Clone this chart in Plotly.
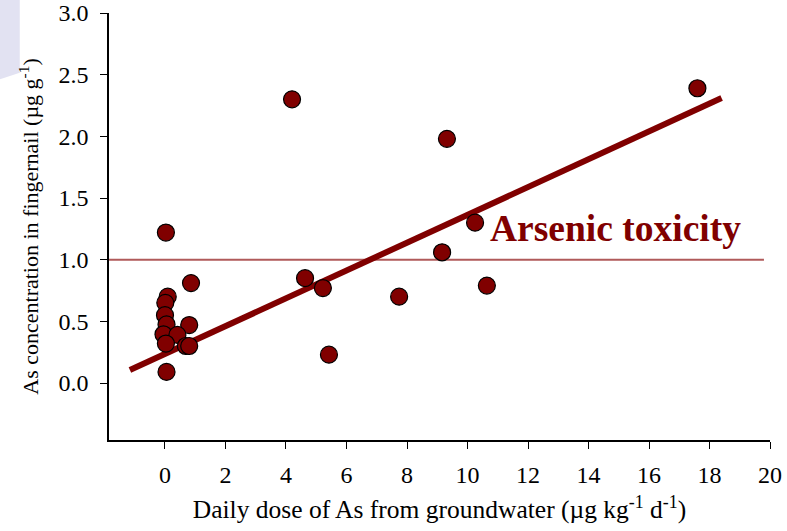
import plotly.graph_objects as go

# Data
dose = [0.03, 4.2, 17.6, 9.32, 10.25, 9.16, 10.64, 7.74, 4.63, 5.22, 5.42, 0.86,
        0.09, 0.01, 0.0, 0.05, 0.80, -0.05, 0.41, 0.03, 0.69, 0.80, 0.05]
nail = [1.22, 2.30, 2.39, 1.98, 1.30, 1.06, 0.79, 0.70, 0.85, 0.77, 0.23, 0.81,
        0.70, 0.65, 0.55, 0.475, 0.47, 0.395, 0.39, 0.32, 0.30, 0.30, 0.09]

fit_x = [-1.16, 18.4]
fit_y = [0.105, 2.31]

tox_x = [-1.85, 19.8]
tox_y = [1.0, 1.0]

x_ticks = [0, 2, 4, 6, 8, 10, 12, 14, 16, 18, 20]
y_ticks = [0.0, 0.5, 1.0, 1.5, 2.0, 2.5, 3.0]

x_title = "Daily dose of As from groundwater (µg kg<sup>-1</sup> d<sup>-1</sup>)"
y_title = "As concentration in fingernail (µg g<sup>-1</sup>)"

DARK = "#800000"
FONT = "Liberation Serif"

fig = go.Figure()
fig.add_trace(go.Scatter(x=tox_x, y=tox_y, mode="lines",
                         line=dict(color="#b05a5a", width=2), hoverinfo="skip"))
fig.add_trace(go.Scatter(x=fit_x, y=fit_y, mode="lines",
                         line=dict(color=DARK, width=6), hoverinfo="skip"))
fig.add_trace(go.Scatter(x=dose, y=nail, mode="markers",
                         marker=dict(size=17, color=DARK,
                                     line=dict(color="black", width=1.2))))

fig.add_annotation(x=14.88, y=1.256, text="<b>Arsenic toxicity</b>", showarrow=False,
                   font=dict(family=FONT, size=37.5, color=DARK), xanchor="center", yanchor="middle")

# faint lavender background corner
fig.add_shape(type="path", xref="paper", yref="paper",
              path="M -0.165 1.031 L -0.135 1.031 L -0.135 0.86 L -0.165 0.845 Z",
              fillcolor="#e2e2f2", line=dict(width=0), layer="below")

fig.update_layout(
    width=787, height=531,
    margin=dict(l=109, r=17, t=13, b=91, autoexpand=False),
    plot_bgcolor="white", paper_bgcolor="white",
    showlegend=False,
    font=dict(family=FONT, size=22, color="black"),
)
fig.update_xaxes(range=[-1.851, 20], tickvals=x_ticks, ticks="outside", ticklen=7,
                 tickcolor="black", showline=True, linecolor="black", linewidth=1.5,
                 showgrid=False, zeroline=False, ticklabelstandoff=5, automargin=False,
                 tickfont=dict(family=FONT, size=24),
                 title=dict(text=x_title, font=dict(family=FONT, size=25.5), standoff=14))
fig.update_yaxes(range=[-0.462, 3.0], tickvals=y_ticks, tickformat=".1f", ticks="outside",
                 ticklen=7, tickcolor="black", showline=True, linecolor="black", linewidth=1.5,
                 showgrid=False, zeroline=False, ticklabelstandoff=7, automargin=False,
                 tickfont=dict(family=FONT, size=24),
                 title=dict(text=y_title, font=dict(family=FONT, size=22), standoff=14))

fig.write_html("out.html")
